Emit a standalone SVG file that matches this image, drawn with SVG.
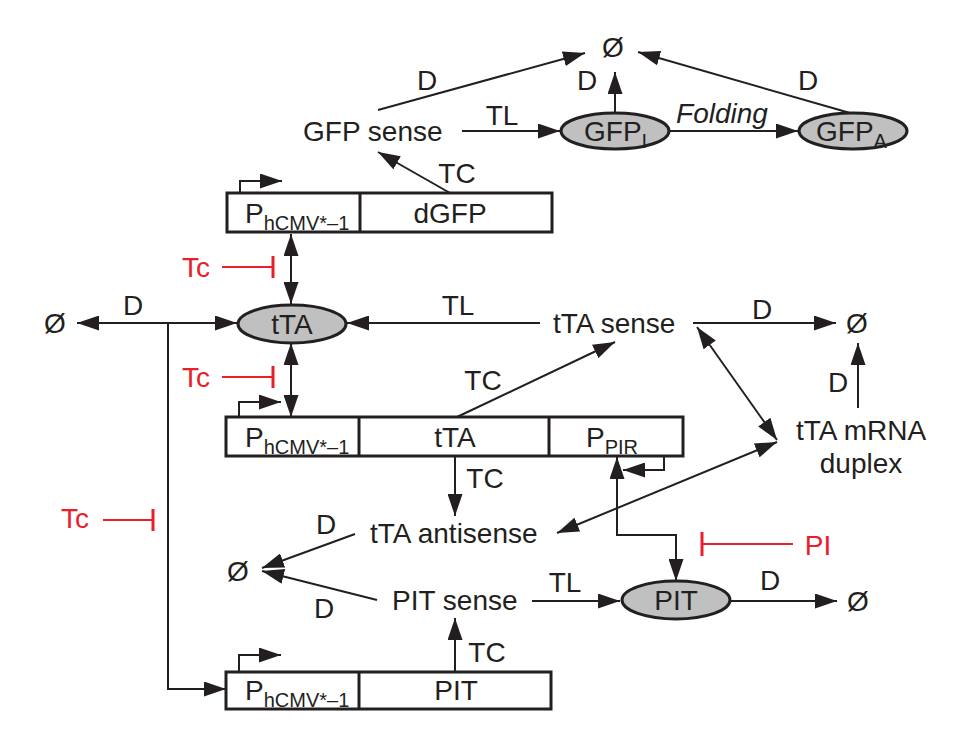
<svg xmlns="http://www.w3.org/2000/svg" width="963" height="743" viewBox="0 0 963 743">
<style>
text{font-family:"Liberation Sans",Arial,sans-serif;font-size:28px;fill:#231f20}
.m{text-anchor:middle}
.sub{font-size:20px}
.red{fill:#e8202a}
.ln{stroke:#231f20;stroke-width:2;fill:none}
.a{marker-end:url(#ah)}
.b{marker-start:url(#ah);marker-end:url(#ah)}
.inh{stroke:#e8202a;stroke-width:2;fill:none}
.bar{stroke:#e8202a;stroke-width:3;fill:none}
.box{fill:#fff;stroke:#231f20;stroke-width:3}
.ell{fill:#c0c0c0;stroke:#231f20;stroke-width:3}
</style>
<defs>
<marker id="ah" viewBox="0 0 22 15" refX="22" refY="7.5" markerWidth="22" markerHeight="15" markerUnits="userSpaceOnUse" orient="auto-start-reverse">
<path d="M0,0 L22,7.5 L0,15 z" fill="#231f20"/>
</marker>
</defs>
<rect width="963" height="743" fill="#fff"/>

<g id="connectors">
<line class="ln a" x1="378" y1="110" x2="585" y2="53"/>
<line class="ln a" x1="615" y1="113" x2="615" y2="72"/>
<line class="ln a" x1="850" y1="113" x2="638" y2="52"/>
<line class="ln a" x1="462" y1="131" x2="560" y2="131"/>
<line class="ln a" x1="670" y1="131" x2="798" y2="131"/>
<line class="ln a" x1="450" y1="193" x2="378" y2="152"/>
<polyline class="ln a" points="240,193 240,181 282,181"/>
<line class="ln b" x1="291" y1="234" x2="291" y2="304"/>
<line class="ln a" x1="168" y1="323" x2="77" y2="323"/>
<line class="ln a" x1="168" y1="323" x2="237" y2="323"/>
<polyline class="ln a" points="168,323 168,689 226,689"/>
<line class="ln a" x1="540" y1="323" x2="347" y2="323"/>
<line class="ln a" x1="693" y1="323" x2="836" y2="323"/>
<line class="ln b" x1="697" y1="327" x2="777" y2="440"/>
<line class="ln a" x1="858" y1="408" x2="858" y2="343"/>
<line class="ln b" x1="291" y1="343" x2="291" y2="417"/>
<polyline class="ln a" points="239,417 239,402 281,402"/>
<line class="ln a" x1="457" y1="417" x2="615" y2="342"/>
<line class="ln a" x1="455" y1="457" x2="455" y2="516"/>
<polyline class="ln a" points="664,457 664,470 623,470"/>
<polyline class="ln b" points="676,581 676,535 617,535 617,457"/>
<line class="ln b" x1="557" y1="533" x2="777" y2="442"/>
<line class="ln a" x1="355" y1="534" x2="262" y2="568"/>
<line class="ln a" x1="377" y1="600" x2="262" y2="571"/>
<line class="ln a" x1="532" y1="601" x2="620" y2="601"/>
<line class="ln a" x1="730" y1="601" x2="837" y2="601"/>
<line class="ln a" x1="455" y1="672" x2="455" y2="618"/>
<polyline class="ln a" points="239,672 239,655 281,655"/>
<line class="inh" x1="222" y1="267" x2="272" y2="267"/>
<line class="bar" x1="273" y1="256" x2="273" y2="278"/>
<line class="inh" x1="222" y1="377" x2="272" y2="377"/>
<line class="bar" x1="273" y1="366" x2="273" y2="388"/>
<line class="inh" x1="103" y1="520" x2="152" y2="520"/>
<line class="bar" x1="153" y1="509" x2="153" y2="531"/>
<line class="inh" x1="703" y1="544" x2="793" y2="544"/>
<line class="bar" x1="702" y1="532" x2="702" y2="556"/>
</g>

<g id="labels">
<text class="m" x="427" y="90">D</text>
<text class="m" x="587" y="90">D</text>
<text class="m" x="808" y="90">D</text>
<text class="m" x="502" y="125">TL</text>
<text class="m" x="722" y="123" font-style="italic">Folding</text>
<text class="m" x="457" y="183">TC</text>
<text class="m" x="133" y="315">D</text>
<text class="m" x="458" y="315">TL</text>
<text class="m" x="762" y="319">D</text>
<text class="m" x="838" y="392">D</text>
<text class="m" x="483" y="390">TC</text>
<text class="m" x="485" y="488">TC</text>
<text class="m" x="326" y="534">D</text>
<text class="m" x="324" y="618">D</text>
<text class="m" x="565" y="592">TL</text>
<text class="m" x="770" y="590">D</text>
<text class="m" x="487" y="662">TC</text>
<text class="m red" x="196" y="277">Tc</text>
<text class="m red" x="196" y="387">Tc</text>
<text class="m red" x="75" y="528">Tc</text>
<text class="m red" x="818" y="555">PI</text>
</g>

<g id="null-top"><text class="m" x="613" y="57">Ø</text></g>
<g id="null-left"><text class="m" x="55" y="333">Ø</text></g>
<g id="null-right"><text class="m" x="857" y="333">Ø</text></g>
<g id="null-mid"><text class="m" x="238" y="581">Ø</text></g>
<g id="null-pit"><text class="m" x="858" y="611">Ø</text></g>

<g id="gfp-sense"><text x="303" y="141">GFP sense</text></g>
<g id="gfp-i">
<ellipse class="ell" cx="615" cy="131" rx="54" ry="18"/>
<text x="584" y="141">GFP<tspan class="sub" dy="7">I</tspan></text>
</g>
<g id="gfp-a">
<ellipse class="ell" cx="853" cy="131" rx="54" ry="18"/>
<text x="816" y="141">GFP<tspan class="sub" dy="7">A</tspan></text>
</g>

<g id="box-dgfp">
<rect class="box" x="227" y="193" width="325" height="39"/>
<line class="box" x1="360" y1="193" x2="360" y2="232"/>
<text x="245" y="223">P<tspan class="sub" dy="7">hCMV*–1</tspan></text>
<text class="m" x="450" y="223">dGFP</text>
</g>

<g id="tta-protein">
<ellipse class="ell" cx="292" cy="324" rx="54" ry="19"/>
<text class="m" x="292" y="334">tTA</text>
</g>

<g id="tta-sense"><text x="553" y="333">tTA sense</text></g>

<g id="duplex">
<text class="m" x="861" y="440">tTA mRNA</text>
<text class="m" x="861" y="473">duplex</text>
</g>

<g id="box-tta">
<rect class="box" x="226" y="417" width="457" height="39"/>
<line class="box" x1="359" y1="417" x2="359" y2="456"/>
<line class="box" x1="549" y1="417" x2="549" y2="456"/>
<text x="245" y="447">P<tspan class="sub" dy="7">hCMV*–1</tspan></text>
<text class="m" x="455" y="447">tTA</text>
<text x="586" y="447">P<tspan class="sub" dy="7">PIR</tspan></text>
</g>

<g id="tta-antisense"><text x="370" y="543">tTA antisense</text></g>
<g id="pit-sense"><text x="392" y="610">PIT sense</text></g>

<g id="pit-protein">
<ellipse class="ell" cx="676" cy="600" rx="54" ry="19"/>
<text class="m" x="676" y="610">PIT</text>
</g>

<g id="box-pit">
<rect class="box" x="226" y="672" width="325" height="37"/>
<line class="box" x1="359" y1="672" x2="359" y2="709"/>
<text x="245" y="700">P<tspan class="sub" dy="7">hCMV*–1</tspan></text>
<text class="m" x="456" y="700">PIT</text>
</g>
</svg>
